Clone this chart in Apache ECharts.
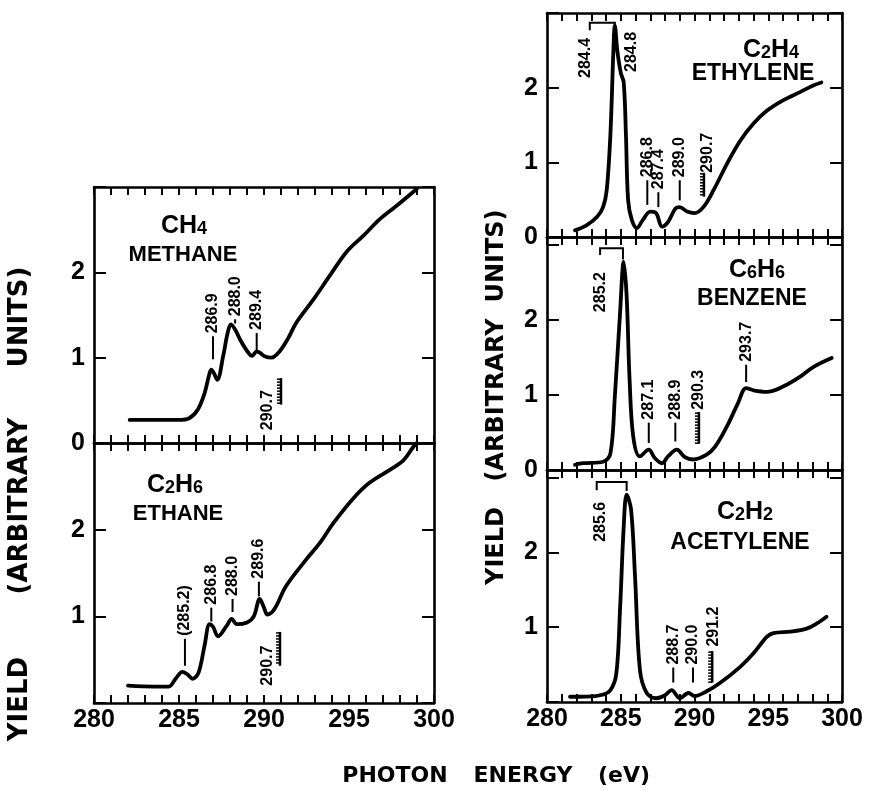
<!DOCTYPE html>
<html><head><meta charset="utf-8">
<script src="https://cdn.jsdelivr.net/npm/echarts@6/dist/echarts.min.js"></script>
<style>html,body{margin:0;padding:0;background:#fff}#c{width:871px;height:793px}</style>
</head><body><div id="c"></div>
<script>
// ---------- DATA ----------
const xTickLabels = [280, 285, 290, 295, 300];

const methaneE = [282.1, 283.5, 285.0, 285.6, 286.1, 286.5, 286.75, 286.9, 287.05, 287.25, 287.6, 287.85, 288.05, 288.3, 288.6, 289.0, 289.3, 289.55, 289.75, 290.0, 290.45, 290.9, 291.4, 291.9, 292.9, 293.9, 294.9, 295.85, 296.8, 297.8, 299.0];
const methaneY = [0.27, 0.27, 0.27, 0.29, 0.39, 0.58, 0.78, 0.86, 0.82, 0.74, 1.02, 1.28, 1.39, 1.33, 1.21, 1.08, 1.02, 1.07, 1.06, 1.02, 1.00, 1.07, 1.22, 1.41, 1.68, 1.97, 2.25, 2.43, 2.62, 2.78, 2.98];

const ethaneE = [282.0, 283.5, 284.4, 284.8, 285.2, 285.5, 285.8, 286.15, 286.5, 286.8, 287.0, 287.3, 287.8, 288.1, 288.4, 289.0, 289.4, 289.75, 290.0, 290.2, 290.6, 291.3, 292.5, 293.3, 294.1, 295.25, 296.2, 297.4, 298.2, 298.8, 299.0];
const ethaneY = [0.20, 0.19, 0.19, 0.28, 0.36, 0.33, 0.28, 0.35, 0.66, 0.91, 0.88, 0.77, 0.89, 0.97, 0.91, 0.93, 1.00, 1.20, 1.10, 1.02, 1.08, 1.35, 1.66, 1.85, 2.08, 2.36, 2.54, 2.69, 2.80, 2.96, 3.0];

const ethyleneE = [281.9, 282.7, 283.4, 283.8, 284.05, 284.3, 284.5, 284.6, 284.77, 285.0, 285.2, 285.35, 285.5, 285.75, 286.1, 286.5, 287.0, 287.4, 287.8, 288.2, 288.7, 289.0, 289.5, 290.0, 290.6, 291.3, 292.2, 293.1, 294.0, 294.9, 296.0, 297.15, 298.05, 298.6];
const ethyleneY = [0.09, 0.16, 0.27, 0.40, 0.63, 1.38, 2.49, 2.83, 2.49, 2.2, 2.07, 1.38, 0.49, 0.23, 0.12, 0.23, 0.34, 0.32, 0.14, 0.20, 0.38, 0.40, 0.34, 0.32, 0.40, 0.63, 0.98, 1.29, 1.52, 1.69, 1.83, 1.94, 2.03, 2.07];

const benzeneE = [281.9, 282.45, 283.8, 284.3, 284.6, 284.95, 285.2, 285.4, 285.6, 285.85, 286.3, 286.9, 287.3, 287.8, 288.2, 288.8, 289.35, 289.9, 290.8, 291.4, 292.2, 292.95, 293.5, 294.0, 294.9, 296.0, 297.15, 298.05, 299.3];
const benzeneY = [0.07, 0.09, 0.11, 0.22, 0.98, 2.08, 2.77, 2.31, 1.20, 0.44, 0.18, 0.27, 0.16, 0.09, 0.18, 0.27, 0.17, 0.14, 0.20, 0.31, 0.58, 0.89, 1.09, 1.06, 1.04, 1.11, 1.24, 1.37, 1.49];

const acetyleneE = [281.56, 282.2, 283.6, 284.3, 284.7, 284.95, 285.2, 285.4, 285.7, 285.97, 286.3, 286.76, 287.4, 288.0, 288.45, 289.0, 289.6, 290.0, 290.8, 291.7, 293.1, 294.0, 294.9, 295.35, 296.5, 297.6, 298.3, 298.95];
const acetyleneY = [0.07, 0.07, 0.09, 0.16, 0.38, 1.23, 2.34, 2.77, 2.57, 1.67, 0.43, 0.12, 0.05, 0.09, 0.16, 0.05, 0.12, 0.08, 0.14, 0.25, 0.47, 0.65, 0.87, 0.92, 0.94, 0.98, 1.05, 1.14];

// peak annotations: [energy, line bottom, line top, label]
const methaneMarks = [[287.0, 0.98, 1.25, '286.9'], [288.3, 1.40, 1.45, '288.0'], [289.57, 1.07, 1.29, '289.4'], [290.2, 0.15, 0.15, '290.7']];
const ethaneMarks = [[285.35, 0.43, 0.74, '(285.2)'], [286.9, 0.94, 1.10, '286.8'], [288.15, 1.05, 1.20, '288.0'], [289.7, 1.23, 1.40, '289.6'], [290.2, 0.2, 0.2, '290.7']];
const ethyleneMarks = [[282.6, 2.13, 2.13, '284.4'], [285.76, 2.21, 2.21, '284.8'], [286.8, 0.43, 0.76, '286.8'], [287.55, 0.40, 0.60, '287.4'], [289.0, 0.49, 0.76, '289.0'], [290.9, 0.86, 0.86, '290.7']];
const benzeneMarks = [[283.6, 2.10, 2.10, '285.2'], [286.9, 0.36, 0.63, '287.1'], [288.7, 0.38, 0.63, '288.9'], [290.26, 0.80, 0.80, '290.3'], [293.5, 1.17, 1.40, '293.7']];
const acetyleneMarks = [[283.6, 2.14, 2.14, '285.6'], [288.56, 0.26, 0.46, '288.7'], [289.9, 0.26, 0.46, '290.0'], [291.3, 0.74, 0.74, '291.2']];

// ionisation thresholds (hatched marks): [energy, bottom, top]
const methaneIP = [[291.0, 0.45, 0.76]];
const ethaneIP = [[290.94, 0.43, 0.82]];
const ethyleneIP = [[290.64, 0.54, 0.86]];
const benzeneIP = [[290.3, 0.35, 0.77]];
const acetyleneIP = [[291.2, 0.26, 0.68]];

// brackets: [E left, E right, left foot, top, right foot]
const ethyleneBracket = [[282.9, 284.6, 2.77, 2.87, 2.80]];
const benzeneBracket = [[283.6, 285.15, 2.86, 2.95, 2.80]];
const acetyleneBracket = [[283.37, 285.4, 2.83, 2.94, 2.82]];

// ---------- LAYOUT ----------
const F = 'Liberation Sans';
const panels = [
  { E: methaneE, Y: methaneY, marks: methaneMarks, ip: methaneIP, br: [], grid: {left: 94, top: 187, width: 340, height: 256}, ymax: 3, yShow: [0, 1, 2], xShow: false },
  { E: ethaneE, Y: ethaneY, marks: ethaneMarks, ip: ethaneIP, br: [], grid: {left: 94, top: 443, width: 340, height: 260}, ymax: 3, yShow: [1, 2], xShow: true },
  { E: ethyleneE, Y: ethyleneY, marks: ethyleneMarks, ip: ethyleneIP, br: ethyleneBracket, grid: {left: 547, top: 13, width: 295, height: 224}, ymax: 3, yShow: [0, 1, 2], xShow: false },
  { E: benzeneE, Y: benzeneY, marks: benzeneMarks, ip: benzeneIP, br: benzeneBracket, grid: {left: 547, top: 237, width: 295, height: 233}, ymax: 3.1, yShow: [0, 1, 2], xShow: false },
  { E: acetyleneE, Y: acetyleneY, marks: acetyleneMarks, ip: acetyleneIP, br: acetyleneBracket, grid: {left: 547, top: 470, width: 295, height: 232}, ymax: 3.1, yShow: [1, 2], xShow: true }
];

const mkLine = () => ({show: true, onZero: false, lineStyle: {color: '#000', width: 2.6}});
const grids = [], xAxes = [], yAxes = [], series = [];

panels.forEach((p, i) => {
  grids.push(Object.assign({outerBoundsMode: 'none', containLabel: false}, p.grid));
  ['bottom', 'top'].forEach(pos => {
    xAxes.push({
      type: 'value', gridIndex: i, position: pos, min: 280, max: 300, interval: 1,
      axisLine: mkLine(), splitLine: {show: false},
      axisTick: {show: true, inside: true, length: 8, lineStyle: {color: '#000', width: 2}},
      axisLabel: {show: pos === 'bottom' && p.xShow, margin: 5, color: '#000', fontFamily: F, fontWeight: 'bold', fontSize: 25,
        formatter: v => xTickLabels.includes(Math.round(v)) && Math.abs(v - Math.round(v)) < 1e-6 ? String(Math.round(v)) : ''}
    });
  });
  ['left', 'right'].forEach(pos => {
    yAxes.push({
      type: 'value', gridIndex: i, position: pos, min: 0, max: p.ymax, interval: 1,
      axisLine: mkLine(), splitLine: {show: false},
      axisTick: {show: true, inside: true, length: 12, lineStyle: {color: '#000', width: 2}},
      axisLabel: {show: pos === 'left', margin: 9, color: '#000', fontFamily: F, fontWeight: 'bold', fontSize: 25,
        formatter: v => p.yShow.includes(v) ? String(v) : ''}
    });
  });

  series.push({
    type: 'line', xAxisIndex: 2 * i, yAxisIndex: 2 * i, data: p.E.map((e, k) => [e, p.Y[k]]),
    showSymbol: false, smooth: 0.35, silent: true, z: 4,
    lineStyle: {color: '#000', width: 3.8, cap: 'round', join: 'round'}
  });
  const marks = p.marks;
  series.push({
    type: 'custom', xAxisIndex: 2 * i, yAxisIndex: 2 * i, silent: true, clip: false, z: 5,
    data: marks.map(a => [a[0], a[2]]),
    renderItem: (params, api) => {
      const a = marks[params.dataIndex];
      const p0 = api.coord([a[0], a[1]]), p1 = api.coord([a[0], a[2]]);
      const ch = [];
      if (a[2] > a[1]) ch.push({type: 'line', shape: {x1: p0[0], y1: p0[1], x2: p1[0], y2: p1[1]}, style: {stroke: '#000', lineWidth: 2}});
      ch.push({type: 'text', x: p1[0], y: p1[1] - (a[2] > a[1] ? 3 : 0), rotation: Math.PI / 2,
        style: {text: a[3], fill: '#000', font: 'bold 16px "Liberation Sans"', align: 'left', verticalAlign: 'middle'}});
      return {type: 'group', children: ch};
    }
  });
  const ip = p.ip;
  series.push({
    type: 'custom', xAxisIndex: 2 * i, yAxisIndex: 2 * i, silent: true, clip: false, z: 5,
    data: ip.map(a => [a[0], a[2]]),
    renderItem: (params, api) => {
      const a = ip[params.dataIndex];
      const p0 = api.coord([a[0], a[1]]), p1 = api.coord([a[0], a[2]]);
      const ch = [{type: 'line', shape: {x1: p0[0], y1: p0[1], x2: p1[0], y2: p1[1]}, style: {stroke: '#000', lineWidth: 2.5}}];
      for (let y = p1[1] + 1; y <= p0[1]; y += 3) {
        ch.push({type: 'line', shape: {x1: p0[0], y1: y, x2: p0[0] - 4, y2: y}, style: {stroke: '#000', lineWidth: 1.5}});
      }
      return {type: 'group', children: ch};
    }
  });
  const br = p.br;
  series.push({
    type: 'custom', xAxisIndex: 2 * i, yAxisIndex: 2 * i, silent: true, clip: false, z: 5,
    data: br.map(a => [a[0], a[3]]),
    renderItem: (params, api) => {
      const a = br[params.dataIndex];
      const pts = [api.coord([a[0], a[2]]), api.coord([a[0], a[3]]), api.coord([a[1], a[3]]), api.coord([a[1], a[4]])];
      return {type: 'polyline', shape: {points: pts}, style: {stroke: '#000', lineWidth: 2, fill: null}};
    }
  });
});

function formula(parts) {
  return parts.map((t, k) => (k % 2 === 0 ? '{n|' : '{s|') + t + '}').join('');
}
const rich = {
  n: {fontSize: 25, fontWeight: 'bold', fontFamily: F, lineHeight: 24, verticalAlign: 'top', fill: '#000'},
  s: {fontSize: 18, fontWeight: 'bold', fontFamily: F, lineHeight: 12, verticalAlign: 'bottom', fill: '#000'}
};
function ftext(x, y, parts) {
  return {type: 'text', x, y, silent: true, style: {text: formula(parts), rich, align: 'center', verticalAlign: 'middle', fill: '#000'}};
}
function ntext(x, y, t, size) {
  return {type: 'text', x, y, silent: true, style: {text: t, fill: '#000', font: 'bold ' + (size || 23) + 'px "Liberation Sans"', align: 'center', verticalAlign: 'middle'}};
}
// axis titles, word by word (the original lettering is widely spaced)
function vword(x, y, t, size) {
  return {type: 'text', x, y, rotation: Math.PI / 2, silent: true,
    style: {text: t, fill: '#000', font: 'bold ' + size + 'px "DejaVu Sans"', align: 'center', verticalAlign: 'middle'}};
}
function hword(x, y, t, size) {
  return {type: 'text', x, y, silent: true,
    style: {text: t, fill: '#000', font: 'bold ' + size + 'px "DejaVu Sans"', align: 'center', verticalAlign: 'middle'}};
}

const graphic = [
  ftext(184, 226, ['CH', '4']), ntext(183, 255, 'METHANE', 22),
  ftext(175, 485, ['C', '2', 'H', '6']), ntext(178, 514, 'ETHANE', 22),
  ftext(771, 50, ['C', '2', 'H', '4']), ntext(753, 74, 'ETHYLENE'),
  ftext(757, 270, ['C', '6', 'H', '6']), ntext(752, 299, 'BENZENE'),
  ftext(745, 512, ['C', '2', 'H', '2']), ntext(740, 543, 'ACETYLENE'),
  vword(20, 699, 'YIELD', 26), vword(20, 506, '(ARBITRARY', 26), vword(20, 317, 'UNITS)', 26),
  vword(497, 546, 'YIELD', 24), vword(497, 400, '(ARBITRARY', 24), vword(497, 256, 'UNITS)', 24),
  hword(395, 776, 'PHOTON', 22), hword(523, 776, 'ENERGY', 22), hword(624, 776, '(eV)', 22)
];

const chart = echarts.init(document.getElementById('c'), null, {renderer: 'canvas'});
chart.setOption({
  animation: false,
  backgroundColor: '#fff',
  grid: grids, xAxis: xAxes, yAxis: yAxes, series, graphic
});
</script></body></html>
